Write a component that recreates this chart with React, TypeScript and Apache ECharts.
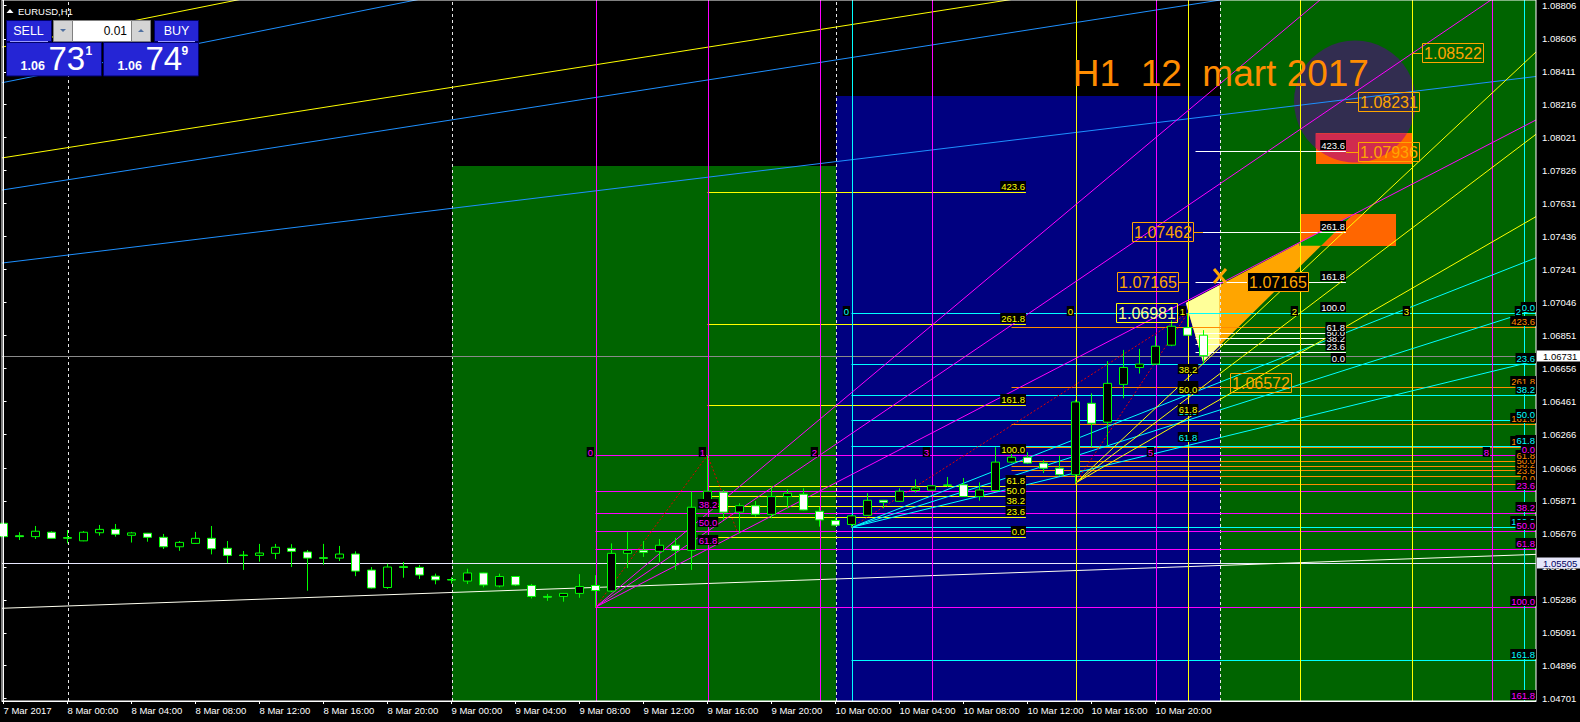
import React, { useEffect, useRef } from "react";
import * as echarts from "echarts";

const FONT = '"Liberation Sans", Arial, sans-serif';

// ---------------- axes ----------------
const X_MIN = -0.09375;
const X_MAX = 95.78125;
const Y_MIN = 1.046873;
const Y_MAX = 1.088356;

const timeTickIdx = [0, 4, 8, 12, 16, 20, 24, 28, 32, 36, 40, 44, 48, 52, 56, 60, 64, 68, 72];
const timeLabels = [
  "7 Mar 2017", "8 Mar 00:00", "8 Mar 04:00", "8 Mar 08:00", "8 Mar 12:00", "8 Mar 16:00", "8 Mar 20:00",
  "9 Mar 00:00", "9 Mar 04:00", "9 Mar 08:00", "9 Mar 12:00", "9 Mar 16:00", "9 Mar 20:00",
  "10 Mar 00:00", "10 Mar 04:00", "10 Mar 08:00", "10 Mar 12:00", "10 Mar 16:00", "10 Mar 20:00",
];
const priceTicks = [
  1.08806, 1.08606, 1.08411, 1.08216, 1.08021, 1.07826, 1.07631, 1.07436, 1.07241, 1.07046, 1.06851,
  1.06656, 1.06461, 1.06266, 1.06066, 1.05871, 1.05676, 1.05481, 1.05286, 1.05091, 1.04896, 1.04701,
];

// ---------------- candles (H1, 7 Mar 20:00 .. 10 Mar 23:00) ----------------
const candleOpen = [
  1.05739, 1.05665, 1.0566, 1.05686, 1.05654, 1.05635, 1.05683, 1.05703, 1.05668, 1.0568,
  1.05656, 1.056, 1.0562, 1.0565, 1.05591, 1.05551, 1.05549, 1.05561, 1.05591, 1.05569,
  1.05535, 1.05533, 1.05557, 1.05462, 1.05359, 1.05482, 1.05478, 1.05426, 1.05406, 1.05397,
  1.05445, 1.05368, 1.05424, 1.05371, 1.05306, 1.05306, 1.05324, 1.05371, 1.05338, 1.05561,
  1.05579, 1.05573, 1.05609, 1.05579, 1.0584, 1.05923, 1.05805, 1.05843, 1.05792, 1.05897,
  1.05911, 1.0581, 1.05755, 1.05732, 1.05786, 1.05875, 1.05869, 1.05933, 1.05935, 1.05963,
  1.05967, 1.05897, 1.05933, 1.06101, 1.0613, 1.06095, 1.06065, 1.06026, 1.06449, 1.06337,
  1.06561, 1.06661, 1.06681, 1.06793, 1.06897, 1.06852,
];
const candleClose = [
  1.0566, 1.0566, 1.05692, 1.0565, 1.05651, 1.05686, 1.05703, 1.05674, 1.05682, 1.05656,
  1.056, 1.05626, 1.0565, 1.05588, 1.05549, 1.05548, 1.05563, 1.05597, 1.05573, 1.05533,
  1.05532, 1.05557, 1.05456, 1.05356, 1.0548, 1.05478, 1.05433, 1.05404, 1.05403, 1.05445,
  1.05374, 1.05424, 1.05374, 1.05306, 1.05302, 1.05324, 1.05365, 1.05341, 1.05561, 1.05579,
  1.05567, 1.05609, 1.05579, 1.05834, 1.05929, 1.05805, 1.05843, 1.05792, 1.05897, 1.05917,
  1.05818, 1.05759, 1.05728, 1.05783, 1.05875, 1.05863, 1.05929, 1.05948, 1.05961, 1.05966,
  1.05897, 1.05936, 1.06101, 1.0613, 1.06095, 1.06065, 1.06026, 1.06457, 1.06331, 1.06567,
  1.06661, 1.06681, 1.06787, 1.06905, 1.06852, 1.06731,
];
const candleLow = [
  1.05655, 1.0564, 1.05646, 1.05648, 1.0562, 1.05633, 1.05666, 1.0566, 1.05625, 1.0563,
  1.05587, 1.05576, 1.05618, 1.05555, 1.05503, 1.05463, 1.05512, 1.05527, 1.0548, 1.0534,
  1.05494, 1.05516, 1.05426, 1.05353, 1.05351, 1.05417, 1.05409, 1.05378, 1.05382, 1.0538,
  1.0536, 1.0536, 1.05368, 1.05294, 1.0528, 1.05275, 1.05298, 1.05242, 1.05332, 1.05474,
  1.0554, 1.0551, 1.05463, 1.05463, 1.0583, 1.05759, 1.0568, 1.05778, 1.05769, 1.05828,
  1.05815, 1.05719, 1.05724, 1.05715, 1.05784, 1.05828, 1.05867, 1.05921, 1.05933, 1.05954,
  1.05895, 1.05873, 1.0593, 1.06095, 1.0609, 1.06036, 1.0602, 1.05977, 1.06192, 1.06198,
  1.06479, 1.06625, 1.0668, 1.06787, 1.0685, 1.06684,
];
const candleHigh = [
  1.05753, 1.05686, 1.05723, 1.05692, 1.05699, 1.05693, 1.05729, 1.05735, 1.05688, 1.05682,
  1.05676, 1.05634, 1.05688, 1.05723, 1.05634, 1.05575, 1.05617, 1.05617, 1.05615, 1.05581,
  1.05617, 1.05605, 1.05573, 1.0548, 1.05499, 1.0551, 1.05492, 1.05441, 1.05419, 1.0547,
  1.05447, 1.05441, 1.05426, 1.0538, 1.05321, 1.05326, 1.05438, 1.05432, 1.0562, 1.05687,
  1.05634, 1.05646, 1.05652, 1.05926, 1.06141, 1.05936, 1.05857, 1.05871, 1.05956, 1.0594,
  1.05946, 1.05837, 1.05778, 1.0579, 1.05917, 1.05877, 1.05946, 1.05999, 1.05963, 1.06013,
  1.06007, 1.05981, 1.06189, 1.0616, 1.0616, 1.06114, 1.0614, 1.0647, 1.06508, 1.06699,
  1.06765, 1.06771, 1.06848, 1.0694, 1.06981, 1.06882,
];

// ---------------- background zones ----------------
const zoneX1 = [28, 52, 76];
const zoneX2 = [52, 76, X_MAX];
const zoneTop = [1.07853, 1.08267, Y_MAX];
const zoneColors = ["#006400", "#000080", "#006400"];

const circleCenter = [84.47, 1.08235];
const circleRadius = 0.00361;
const rectAX = [82, 88];
const rectAP = [1.08047, 1.07863];
const rectBX = [81, 87];
const rectBP = [1.07569, 1.07382];
const triX = [73.9, 84.3, 74.97];
const triP = [1.07043, 1.07563, 1.06694];

// ---------------- levels ----------------
const fibRetrLevels = [0, 23.6, 38.2, 50, 61.8, 100, 161.8];
const fibExtLevels = [0, 23.6, 38.2, 50, 61.8, 100, 161.8, 261.8, 423.6];
const magentaFibPrices = [1.06141, 1.05242];
const magentaFibSpan = [37, X_MAX];
const yellowFibPrices = [1.0566, 1.06141];
const yellowFibSpan = [44, 63.9];
const cyanFibPrices = [1.06982, 1.05715];
const cyanFibSpan = [53, X_MAX];
const orangeFibPrices = [1.0597, 1.06189];
const orangeFibSpan = [63, X_MAX];
const whiteFibPrices = [1.06684, 1.06981];
const whiteFibSpan = [74.5, 83.9];

const fanLevels = [38.2, 50, 61.8];
const magentaFanPts = [[37, 1.05242], [44, 1.06141]];
const cyanFanPts = [[53, 1.05715], [74, 1.06982]];
const yellowFanPts = [[67, 1.05977], [74, 1.06981]];

const zigzagA = [[37, 1.05242], [44, 1.06141], [45.9, 1.05681]];
const zigzagB = [[53, 1.05715], [74, 1.06981]];
const zigzagC = [[67, 1.05977], [74, 1.06981]];

const trendWhite = [[X_MIN, 1.05236], [X_MAX, 1.05555]];
const trendBlueA = [[X_MIN, 1.07279], [X_MAX, 1.08383]];
const trendBlueB = [[X_MIN, 1.07711], [X_MAX, 1.09127]];
const trendBlueC = [[X_MIN, 1.08346], [X_MAX, 1.10161]];
const trendYellowA = [[X_MIN, 1.08557], [X_MAX, 1.10374]];
const trendYellowB = [[X_MIN, 1.07901], [X_MAX, 1.09326]];

const separatorIdx = [4, 28, 52, 76];
const bidPrice = 1.06731;
const linePrice = 1.05505;

const tzMagentaSteps = [0, 1, 2, 3, 5, 8];
const tzMagentaOrigin = 37;
const tzMagentaUnit = 7;
const tzMagentaLabelP = 1.06158;
const tzYellowSteps = [0, 1, 2, 3];
const tzYellowOrigin = 67;
const tzYellowUnit = 7;
const tzCyanSteps = [0, 1, 2];
const tzCyanOrigin = 53;
const tzCyanUnit = 21;
const tzTopLabelP = 1.06998;

const tagPrices = [1.08522, 1.08231, 1.07936, 1.07462, 1.07165, 1.07165, 1.06981, 1.06572];
const tagLeftIdx = [88.66, 84.66, 84.66, 70.55, 69.58, 77.7, 69.53, 76.66];
const tagTickFrom = [88, 83.9, 83.9, 74.97, 74.03, null, null, null];
const tagColors = ["#ffa500", "#ffa500", "#ffa500", "#ffa500", "#ffa500", "#ffa500", "#ffff00", "#ffa500"];
const tagFills = [null, null, null, null, null, "#000000", null, null];

const titleText = "H1  12  mart 2017";
const titlePos = [66.83, 1.08401];
const crossPos = [76.03, 1.07202];

// ---------------- helpers ----------------
function clipEdge(pts, inside, inter) {
  const out = [];
  for (let i = 0; i < pts.length; i++) {
    const cur = pts[i];
    const prev = pts[(i + pts.length - 1) % pts.length];
    const ci = inside(cur);
    const pi = inside(prev);
    if (ci) {
      if (!pi) out.push(inter(prev, cur));
      out.push(cur);
    } else if (pi) out.push(inter(prev, cur));
  }
  return out;
}
function clipRect(pts, x1, y1, x2, y2) {
  const ix = (a, b, x) => { const t = (x - a[0]) / (b[0] - a[0]); return [x, a[1] + t * (b[1] - a[1])]; };
  const iy = (a, b, y) => { const t = (y - a[1]) / (b[1] - a[1]); return [a[0] + t * (b[0] - a[0]), y]; };
  let r = pts;
  r = clipEdge(r, (p) => p[0] >= x1, (a, b) => ix(a, b, x1));
  if (r.length) r = clipEdge(r, (p) => p[0] <= x2, (a, b) => ix(a, b, x2));
  if (r.length) r = clipEdge(r, (p) => p[1] >= y1, (a, b) => iy(a, b, y1));
  if (r.length) r = clipEdge(r, (p) => p[1] <= y2, (a, b) => iy(a, b, y2));
  return r;
}
const lvlPrice = (pr, lvl) => pr[0] + ((pr[1] - pr[0]) * lvl) / 100;
const fanPrice = (pts, lvl) => pts[1][1] - ((pts[1][1] - pts[0][1]) * lvl) / 100;

// ---------------- line specs ----------------
const lineSpecs = [];
separatorIdx.forEach((x) => lineSpecs.push({ pts: [[x, Y_MIN], [x, Y_MAX]], color: "#e6e6e6", dash: [3, 3] }));
lineSpecs.push({ pts: [[X_MIN, linePrice], [X_MAX, linePrice]], color: "#e8e8ff" });
lineSpecs.push({ pts: [[X_MIN, bidPrice], [X_MAX, bidPrice]], color: "#8a8a8a" });
lineSpecs.push({ pts: trendWhite, color: "#fffff0" });
lineSpecs.push({ pts: trendBlueA, color: "#1e90ff" });
lineSpecs.push({ pts: trendBlueB, color: "#1e90ff" });
lineSpecs.push({ pts: trendBlueC, color: "#1e90ff" });
lineSpecs.push({ pts: trendYellowA, color: "#ffff00" });
lineSpecs.push({ pts: trendYellowB, color: "#ffff00" });
fibExtLevels.forEach((l) => { const p = lvlPrice(orangeFibPrices, l); lineSpecs.push({ pts: [[orangeFibSpan[0], p], [orangeFibSpan[1], p]], color: "#ff8c00" }); });
fibExtLevels.forEach((l) => { const p = lvlPrice(yellowFibPrices, l); lineSpecs.push({ pts: [[yellowFibSpan[0], p], [yellowFibSpan[1], p]], color: "#ffff00" }); });
fibExtLevels.forEach((l) => { const p = lvlPrice(whiteFibPrices, l); lineSpecs.push({ pts: [[whiteFibSpan[0], p], [whiteFibSpan[1], p]], color: "#ffffff" }); });
fibRetrLevels.forEach((l) => { const p = lvlPrice(cyanFibPrices, l); lineSpecs.push({ pts: [[cyanFibSpan[0], p], [cyanFibSpan[1], p]], color: "#00ffff" }); });
fibRetrLevels.forEach((l) => { const p = lvlPrice(magentaFibPrices, l); lineSpecs.push({ pts: [[magentaFibSpan[0], p], [magentaFibSpan[1], p]], color: "#ff00ff" }); });
tzCyanSteps.forEach((k) => { const x = tzCyanOrigin + tzCyanUnit * k; lineSpecs.push({ pts: [[x, Y_MIN], [x, Y_MAX]], color: "#00ffff" }); });
tzYellowSteps.forEach((k) => { const x = tzYellowOrigin + tzYellowUnit * k; lineSpecs.push({ pts: [[x, Y_MIN], [x, Y_MAX]], color: "#ffff00" }); });
tzMagentaSteps.forEach((k) => { const x = tzMagentaOrigin + tzMagentaUnit * k; lineSpecs.push({ pts: [[x, Y_MIN], [x, Y_MAX]], color: "#ff00ff" }); });
function addFan(pts, color) {
  fanLevels.forEach((l) => {
    const p = fanPrice(pts, l);
    const slope = (p - pts[0][1]) / (pts[1][0] - pts[0][0]);
    lineSpecs.push({ pts: [pts[0], [X_MAX, pts[0][1] + slope * (X_MAX - pts[0][0])]], color });
  });
}
addFan(magentaFanPts, "#ff00ff");
addFan(cyanFanPts, "#00ffff");
addFan(yellowFanPts, "#ffff00");
[zigzagA, zigzagB, zigzagC].forEach((z) => lineSpecs.push({ pts: z, color: "#e00000", dash: [2, 2] }));

// ---------------- label specs ----------------
const labelSpecs = [];
function fibLabels(levels, pr, xEnd, color) {
  levels.forEach((l) => labelSpecs.push({ x: xEnd, p: lvlPrice(pr, l), text: l.toFixed(1), color, align: "right", va: "bottom", dy: -1, bg: "#000" }));
}
fibLabels(fibExtLevels, orangeFibPrices, orangeFibSpan[1], "#ff8c00");
fibLabels(fibExtLevels, yellowFibPrices, yellowFibSpan[1], "#ffff00");
fibLabels(fibExtLevels, whiteFibPrices, whiteFibSpan[1], "#ffffff");
fibLabels(fibRetrLevels, cyanFibPrices, cyanFibSpan[1], "#00ffff");
fibLabels(fibRetrLevels, magentaFibPrices, magentaFibSpan[1], "#ff00ff");
function fanLabels(pts, color) {
  fanLevels.forEach((l) => labelSpecs.push({ x: pts[1][0], p: fanPrice(pts, l), text: l.toFixed(1), color, align: "center", va: "bottom", dy: -4, bg: "#000" }));
}
fanLabels(magentaFanPts, "#ff00ff");
fanLabels(cyanFanPts, "#00ffff");
fanLabels(yellowFanPts, "#ffff00");
tzMagentaSteps.forEach((k) => labelSpecs.push({ x: tzMagentaOrigin + tzMagentaUnit * k, p: tzMagentaLabelP, text: String(k), color: "#ff00ff", align: "right", va: "middle", dx: -2, bg: "#000" }));
tzCyanSteps.forEach((k) => labelSpecs.push({ x: tzCyanOrigin + tzCyanUnit * k, p: tzTopLabelP, text: String(k), color: "#00ffff", align: "right", va: "middle", dx: -2, bg: "#000" }));
tzYellowSteps.forEach((k) => labelSpecs.push({ x: tzYellowOrigin + tzYellowUnit * k, p: tzTopLabelP, text: String(k), color: "#ffff00", align: "right", va: "middle", dx: -2, bg: "#000" }));

// ---------------- render functions ----------------
function bgRender(params, api) {
  const c = (x, p) => api.coord([x, p]);
  const kids = [];
  const rectOf = (a, b, fill) => ({
    type: "rect",
    shape: { x: Math.round(a[0]), y: Math.round(a[1]), width: Math.round(b[0]) - Math.round(a[0]), height: Math.round(b[1]) - Math.round(a[1]) },
    style: { fill },
  });
  for (let i = 0; i < zoneX1.length; i++) kids.push(rectOf(c(zoneX1[i], zoneTop[i]), c(zoneX2[i], Y_MIN), zoneColors[i]));
  const cc = c(circleCenter[0], circleCenter[1]);
  const rr = Math.abs(c(circleCenter[0], circleCenter[1] + circleRadius)[1] - cc[1]);
  kids.push({ type: "circle", shape: { cx: cc[0], cy: cc[1], r: rr }, style: { fill: "#322d50" } });
  const ra1 = c(rectAX[0], rectAP[0]);
  const ra2 = c(rectAX[1], rectAP[1]);
  kids.push(rectOf(ra1, ra2, "#ff6600"));
  const circPts = [];
  for (let k = 0; k < 90; k++) {
    const t = (k / 90) * Math.PI * 2;
    circPts.push([cc[0] + rr * Math.cos(t), cc[1] + rr * Math.sin(t)]);
  }
  const inter = clipRect(circPts, ra1[0], ra1[1], ra2[0], ra2[1]);
  if (inter.length > 2) kids.push({ type: "polygon", shape: { points: inter }, style: { fill: "#d02b4f" } });
  const rb1 = c(rectBX[0], rectBP[0]);
  const rb2 = c(rectBX[1], rectBP[1]);
  kids.push(rectOf(rb1, rb2, "#ff6600"));
  const tri = triX.map((x, i) => c(x, triP[i]));
  kids.push({ type: "polygon", shape: { points: tri }, style: { fill: "#ffa500" } });
  const sepX = c(76, Y_MIN)[0];
  const yl = clipRect(tri, -1e4, -1e4, sepX, 1e4);
  if (yl.length > 2) kids.push({ type: "polygon", shape: { points: yl }, style: { fill: "#ffff99" } });
  const gr = clipRect(tri, rb1[0], rb1[1], rb2[0], rb2[1]);
  if (gr.length > 2) kids.push({ type: "polygon", shape: { points: gr }, style: { fill: "#009a00" } });
  return { type: "group", children: kids };
}

function lineRender(params, api) {
  const kids = lineSpecs.map((s) => {
    let pts = s.pts.map((q) => api.coord(q));
    if (pts.length === 2) {
      if (Math.abs(pts[0][1] - pts[1][1]) < 0.01) {
        const y = Math.round(pts[0][1]) + 0.5;
        pts = [[pts[0][0], y], [pts[1][0], y]];
      } else if (Math.abs(pts[0][0] - pts[1][0]) < 0.01) {
        const x = Math.round(pts[0][0]) + 0.5;
        pts = [[x, pts[0][1]], [x, pts[1][1]]];
      }
    }
    return {
      type: "polyline",
      shape: { points: pts },
      style: { stroke: s.color, lineWidth: 1, lineDash: s.dash || null, fill: "none" },
    };
  });
  return { type: "group", children: kids };
}

function labelRender(params, api) {
  const c = (x, p) => api.coord([x, p]);
  const kids = [];
  labelSpecs.forEach((s) => {
    const pt = c(s.x, s.p);
    kids.push({
      type: "text",
      x: Math.round(pt[0] + (s.dx || 0)),
      y: Math.round(pt[1] + (s.dy || 0)),
      style: {
        text: s.text, fill: s.color, fontSize: 9.5, fontFamily: FONT,
        align: s.align, verticalAlign: s.va, backgroundColor: s.bg, padding: [0, 1, 0, 1],
      },
    });
  });
  // price tags
  tagPrices.forEach((p, i) => {
    const a = c(tagLeftIdx[i], p);
    const x = Math.round(a[0]) + 0.5;
    const y = Math.round(a[1]);
    if (tagTickFrom[i] != null) {
      const t = c(tagTickFrom[i], p);
      const tx = Math.round(t[0]);
      const x2 = tx < x ? x : x + 61;
      kids.push({ type: "line", shape: { x1: tx, y1: y + 0.5, x2, y2: y + 0.5 }, style: { stroke: tagColors[i], lineWidth: 1 } });
    }
    kids.push({
      type: "rect",
      shape: { x, y: y - 9.5, width: 61, height: 19 },
      style: { fill: tagFills[i] || "none", stroke: tagColors[i], lineWidth: 1 },
    });
    kids.push({
      type: "text", x: x + 30.5, y: y + 0.5,
      style: { text: p.toFixed(5), fill: tagColors[i] === "#ffff00" ? "#ffff80" : "#ffa500", fontSize: 16, fontFamily: FONT, align: "center", verticalAlign: "middle" },
    });
  });
  // title
  const tp = c(titlePos[0], titlePos[1]);
  kids.push({
    type: "text", x: tp[0], y: tp[1],
    style: { text: titleText, fill: "#ff8c00", fontSize: 37, fontFamily: FONT, align: "left", verticalAlign: "middle" },
  });
  // cross marker
  const cp = c(crossPos[0], crossPos[1]);
  kids.push({ type: "line", shape: { x1: cp[0] - 6, y1: cp[1] - 7, x2: cp[0] + 6, y2: cp[1] + 7 }, style: { stroke: "#ffa500", lineWidth: 3 } });
  kids.push({ type: "line", shape: { x1: cp[0] + 6, y1: cp[1] - 7, x2: cp[0] - 6, y2: cp[1] + 7 }, style: { stroke: "#ffa500", lineWidth: 3 } });
  // axis price tags
  const axX = Math.round(c(X_MAX, bidPrice)[0]) + 1;
  const bY = Math.round(c(X_MAX, bidPrice)[1]);
  kids.push({ type: "rect", shape: { x: axX, y: bY - 5.5, width: 44, height: 11 }, style: { fill: "#ffffff" } });
  kids.push({ type: "text", x: axX + 6, y: bY + 0.5, style: { text: bidPrice.toFixed(5), fill: "#000000", fontSize: 9.5, fontFamily: FONT, verticalAlign: "middle" } });
  const lY = Math.round(c(X_MAX, linePrice)[1]);
  kids.push({ type: "rect", shape: { x: axX, y: lY - 5.5, width: 44, height: 11 }, style: { fill: "#e6e6fa" } });
  kids.push({ type: "text", x: axX + 6, y: lY + 0.5, style: { text: linePrice.toFixed(5), fill: "#000060", fontSize: 9.5, fontFamily: FONT, verticalAlign: "middle" } });
  return { type: "group", children: kids };
}

// ---------------- trading panel (UI chrome) ----------------
function panelGraphics() {
  const blue = "#2525d5";
  const edge = "#00006a";
  const t = (x, y, text, size, opts = {}) => ({
    type: "text", x, y, z: 100,
    style: { text, fill: opts.fill || "#ffffff", fontSize: size, fontFamily: FONT, fontWeight: opts.weight || "normal", align: opts.align || "left", verticalAlign: "middle" },
  });
  const r = (x, y, w, h, fill, stroke) => ({ type: "rect", z: 100, shape: { x, y, width: w, height: h }, style: { fill, stroke, lineWidth: 1 } });
  return [
    { type: "polygon", z: 100, shape: { points: [[6.5, 13], [10, 9], [13.5, 13]] }, style: { fill: "#ffffff" } },
    t(18, 11.5, "EURUSD,H1", 9.5),
    r(6.5, 20.5, 45, 21, blue, edge),
    t(28.5, 31, "SELL", 12.5, { align: "center" }),
    { type: "line", z: 101, shape: { x1: 10, y1: 41.5, x2: 48, y2: 41.5 }, style: { stroke: "#9a9aff", lineWidth: 1 } },
    r(6.5, 42.5, 95, 33.5, blue, edge),
    t(20.5, 65.5, "1.06", 12.5, { weight: "bold" }),
    t(48.5, 58.5, "73", 33),
    t(85.5, 51, "1", 12, { weight: "bold" }),
    r(53.5, 20.5, 19, 21, "#d4d4d4", "#808080"),
    { type: "polygon", z: 101, shape: { points: [[60, 29], [66, 29], [63, 32]] }, style: { fill: "#5070a0" } },
    r(72.5, 20.5, 59, 21, "#ffffff", "#808080"),
    t(127, 31, "0.01", 12, { fill: "#000000", align: "right" }),
    r(131.5, 20.5, 19, 21, "#d4d4d4", "#808080"),
    { type: "polygon", z: 101, shape: { points: [[138, 32], [144, 32], [141, 29]] }, style: { fill: "#5070a0" } },
    r(154.5, 20.5, 44, 21, blue, edge),
    t(176.5, 31, "BUY", 12.5, { align: "center" }),
    { type: "line", z: 101, shape: { x1: 158, y1: 41.5, x2: 195, y2: 41.5 }, style: { stroke: "#9a9aff", lineWidth: 1 } },
    r(103.5, 42.5, 95, 33.5, blue, edge),
    t(117.5, 65.5, "1.06", 12.5, { weight: "bold" }),
    t(145.5, 58.5, "74", 33),
    t(181.5, 51, "9", 12, { weight: "bold" }),
  ];
}

function buildOption() {
  const candleData = candleOpen.map((o, i) => [i, o, candleClose[i], candleLow[i], candleHigh[i]]);
  return {
    animation: false,
    backgroundColor: "#000000",
    grid: { left: 2, right: 44, top: 0, bottom: 21, show: true, borderColor: "#ffffff", borderWidth: 1, backgroundColor: "transparent", z: 20 },
    xAxis: {
      type: "value", min: X_MIN, max: X_MAX, z: 20,
      axisLine: { show: true, lineStyle: { color: "#ffffff" } },
      splitLine: { show: false },
      axisTick: { show: true, customValues: timeTickIdx, length: 3, lineStyle: { color: "#ffffff" } },
      axisLabel: {
        customValues: timeTickIdx,
        formatter: (v) => timeLabels[timeTickIdx.indexOf(Math.round(v))] || "",
        color: "#ffffff", fontSize: 9.5, fontFamily: FONT, align: "left", margin: 4,
      },
    },
    yAxis: {
      type: "value", position: "right", min: Y_MIN, max: Y_MAX, z: 20,
      axisLine: { show: true, lineStyle: { color: "#ffffff" } },
      splitLine: { show: false },
      axisTick: { show: true, customValues: priceTicks, length: 3, lineStyle: { color: "#ffffff" } },
      axisLabel: { customValues: priceTicks, formatter: (v) => v.toFixed(5), color: "#ffffff", fontSize: 9.5, fontFamily: FONT, margin: 6 },
    },
    series: [
      { type: "custom", z: 1, clip: true, silent: true, data: [[0, 1.06]], renderItem: bgRender },
      { type: "custom", z: 2, clip: true, silent: true, data: [[0, 1.06]], renderItem: lineRender },
      {
        type: "candlestick", z: 5, barWidth: 9,
        dimensions: ["t", "open", "close", "lowest", "highest"],
        encode: { x: 0, y: [1, 2, 3, 4] },
        data: candleData,
        itemStyle: { color: "#000000", color0: "#ffffff", borderColor: "#00ff00", borderColor0: "#00ff00", borderWidth: 1 },
      },
      { type: "custom", z: 30, clip: false, silent: true, data: [[0, 1.06]], renderItem: labelRender },
    ],
    graphic: panelGraphics(),
  };
}

export default function App() {
  const ref = useRef(null);
  useEffect(() => {
    document.body.style.margin = "0";
    document.body.style.background = "#000";
    const chart = echarts.init(ref.current, null, { renderer: "svg" });
    chart.setOption(buildOption());
    return () => chart.dispose();
  }, []);
  return <div ref={ref} style={{ position: "absolute", left: 0, top: 0, width: 1580, height: 722 }} />;
}
